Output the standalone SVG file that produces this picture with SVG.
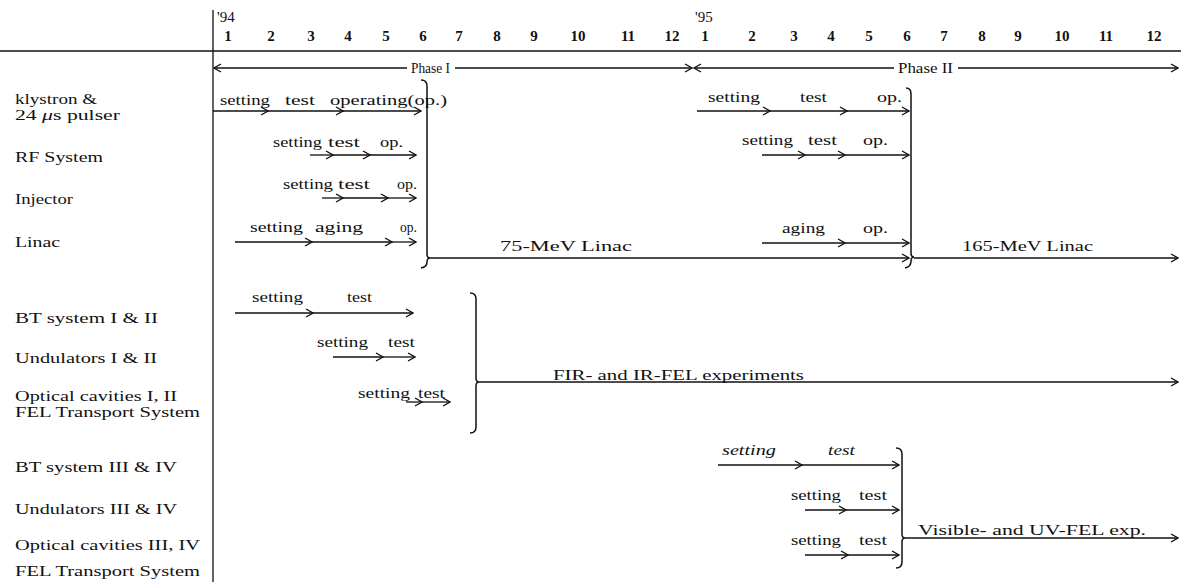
<svg xmlns="http://www.w3.org/2000/svg" width="1181" height="582" viewBox="0 0 1181 582">
<style>
text{font-family:"Liberation Serif","Times New Roman",serif;fill:#111;font-size:15px}
.num{font-size:15px;font-weight:bold}
.lbl{font-size:14px}
.it{font-style:italic}
.ln{stroke:#111;stroke-width:1.3;fill:none}
.ar{stroke:#111;stroke-width:1.3;fill:none;marker-end:url(#ah)}
.br{stroke:#111;stroke-width:1.5;fill:none}
</style>
<defs>
<marker id="ah" viewBox="-9 -5 10 10" refX="0" refY="0" markerWidth="10" markerHeight="10" markerUnits="userSpaceOnUse" orient="auto-start-reverse">
<path d="M-7,-4 L0,0 L-7,4" fill="none" stroke="#111" stroke-width="1.3"/>
</marker>
</defs>
<rect width="1181" height="582" fill="#fff"/>

<g id="axis">
<line class="ln" x1="213" y1="10" x2="213" y2="582"/>
<line class="ln" x1="0" y1="51" x2="1181" y2="51" stroke-width="1.6"/>
<text x="217" y="22">'94</text>
<text x="695" y="22">'95</text>
<g text-anchor="middle">
<text class="num" x="228" y="41">1</text><text class="num" x="271" y="41">2</text><text class="num" x="311" y="41">3</text><text class="num" x="348" y="41">4</text><text class="num" x="386" y="41">5</text><text class="num" x="423" y="41">6</text><text class="num" x="459" y="41">7</text><text class="num" x="497" y="41">8</text><text class="num" x="534" y="41">9</text><text class="num" x="578" y="41">10</text><text class="num" x="628" y="41">11</text><text class="num" x="672" y="41">12</text>
<text class="num" x="705" y="41">1</text><text class="num" x="752" y="41">2</text><text class="num" x="794" y="41">3</text><text class="num" x="831" y="41">4</text><text class="num" x="869" y="41">5</text><text class="num" x="907" y="41">6</text><text class="num" x="944" y="41">7</text><text class="num" x="982" y="41">8</text><text class="num" x="1018" y="41">9</text><text class="num" x="1062" y="41">10</text><text class="num" x="1106" y="41">11</text><text class="num" x="1154" y="41">12</text>
</g>
</g>

<g id="phases">
<line class="ln" x1="214" y1="68" x2="407" y2="68" marker-start="url(#ah)"/>
<text x="411" y="73" textLength="39" lengthAdjust="spacingAndGlyphs">Phase I</text>
<line class="ar" x1="455" y1="68" x2="692" y2="68"/>
<line class="ln" x1="694" y1="68" x2="894" y2="68" marker-start="url(#ah)"/>
<text x="898" y="73" textLength="55" lengthAdjust="spacingAndGlyphs">Phase II</text>
<line class="ar" x1="958" y1="68" x2="1178" y2="68"/>
</g>

<g id="node-klystron"><text class="lbl" x="15" y="104" textLength="82" lengthAdjust="spacingAndGlyphs">klystron &amp;</text><text class="lbl" x="15" y="120" textLength="105" lengthAdjust="spacingAndGlyphs">24 <tspan class="it">μ</tspan>s  pulser</text></g>
<g id="node-rf"><text class="lbl" x="15" y="162" textLength="88" lengthAdjust="spacingAndGlyphs">RF System</text></g>
<g id="node-injector"><text class="lbl" x="15" y="204" textLength="58" lengthAdjust="spacingAndGlyphs">Injector</text></g>
<g id="node-linac"><text class="lbl" x="15" y="247" textLength="45" lengthAdjust="spacingAndGlyphs">Linac</text></g>
<g id="node-bt12"><text class="lbl" x="15" y="323" textLength="143" lengthAdjust="spacingAndGlyphs">BT system I &amp; II</text></g>
<g id="node-und12"><text class="lbl" x="15" y="363" textLength="142" lengthAdjust="spacingAndGlyphs">Undulators I &amp; II</text></g>
<g id="node-opt12"><text class="lbl" x="15" y="401" textLength="162" lengthAdjust="spacingAndGlyphs">Optical cavities I, II</text><text class="lbl" x="15" y="417" textLength="185" lengthAdjust="spacingAndGlyphs">FEL Transport System</text></g>
<g id="node-bt34"><text class="lbl" x="15" y="472" textLength="162" lengthAdjust="spacingAndGlyphs">BT system III &amp; IV</text></g>
<g id="node-und34"><text class="lbl" x="15" y="514" textLength="162" lengthAdjust="spacingAndGlyphs">Undulators III &amp; IV</text></g>
<g id="node-opt34"><text class="lbl" x="15" y="550" textLength="185" lengthAdjust="spacingAndGlyphs">Optical cavities III, IV</text><text class="lbl" x="15" y="576" textLength="185" lengthAdjust="spacingAndGlyphs">FEL Transport System</text></g>

<g id="brackets">
<path class="br" d="M421,80 Q427,80 427,86 L427,254 Q427,258 430,258 Q427,258 427,262 Q427,267 421,268"/>
<path class="br" d="M906,88 Q911,88 911,94 L911,253 Q911,257 914,257 Q911,257 911,261 Q911,267 905,268"/>
<path class="br" d="M470,293 Q476,293 476,299 L476,378 Q476,382 479,382 Q476,382 476,386 L476,427 Q476,433 470,433"/>
<path class="br" d="M896,448 Q902,448 902,454 L902,534 Q902,538 905,538 Q902,538 902,542 L902,562 Q902,568 896,568"/>
</g>

<g id="connectors">
<line class="ar" x1="213" y1="111" x2="268" y2="111"/><line class="ar" x1="268" y1="111" x2="343" y2="111"/><line class="ar" x1="343" y1="111" x2="421" y2="111"/>
<line class="ar" x1="310" y1="155" x2="333" y2="155"/><line class="ar" x1="333" y1="155" x2="370" y2="155"/><line class="ar" x1="370" y1="155" x2="416" y2="155"/>
<line class="ar" x1="322" y1="198" x2="343" y2="198"/><line class="ar" x1="343" y1="198" x2="388" y2="198"/><line class="ar" x1="388" y1="198" x2="416" y2="198"/>
<line class="ar" x1="235" y1="242" x2="312" y2="242"/><line class="ar" x1="312" y1="242" x2="392" y2="242"/><line class="ar" x1="392" y1="242" x2="416" y2="242"/>
<line class="ar" x1="697" y1="111" x2="770" y2="111"/><line class="ar" x1="770" y1="111" x2="847" y2="111"/><line class="ar" x1="847" y1="111" x2="909" y2="111"/>
<line class="ar" x1="762" y1="155" x2="805" y2="155"/><line class="ar" x1="805" y1="155" x2="845" y2="155"/><line class="ar" x1="845" y1="155" x2="909" y2="155"/>
<line class="ar" x1="762" y1="243" x2="845" y2="243"/><line class="ar" x1="845" y1="243" x2="909" y2="243"/>
<line class="ar" x1="430" y1="258" x2="909" y2="258"/>
<line class="ar" x1="914" y1="258" x2="1178" y2="258"/>
<line class="ar" x1="235" y1="313" x2="313" y2="313"/><line class="ar" x1="313" y1="313" x2="413" y2="313"/>
<line class="ar" x1="333" y1="357" x2="383" y2="357"/><line class="ar" x1="383" y1="357" x2="415" y2="357"/>
<line class="ar" x1="406" y1="402" x2="422" y2="402"/><line class="ar" x1="422" y1="402" x2="450" y2="402"/>
<line class="ar" x1="479" y1="382" x2="1178" y2="382"/>
<line class="ar" x1="718" y1="465" x2="802" y2="465"/><line class="ar" x1="802" y1="465" x2="899" y2="465"/>
<line class="ar" x1="805" y1="510" x2="846" y2="510"/><line class="ar" x1="846" y1="510" x2="899" y2="510"/>
<line class="ar" x1="805" y1="555" x2="848" y2="555"/><line class="ar" x1="848" y1="555" x2="899" y2="555"/>
<line class="ar" x1="905" y1="538" x2="1178" y2="538"/>
</g>

<g id="connector-labels">
<text x="220" y="105" textLength="50" lengthAdjust="spacingAndGlyphs">setting</text><text x="285" y="105" textLength="30" lengthAdjust="spacingAndGlyphs">test</text><text x="330" y="105" textLength="117" lengthAdjust="spacingAndGlyphs">operating(op.)</text>
<text x="273" y="147" textLength="49" lengthAdjust="spacingAndGlyphs">setting</text><text x="328" y="147" textLength="32" lengthAdjust="spacingAndGlyphs">test</text><text x="380" y="147" textLength="23" lengthAdjust="spacingAndGlyphs">op.</text>
<text x="283" y="189" textLength="50" lengthAdjust="spacingAndGlyphs">setting</text><text x="338" y="189" textLength="32" lengthAdjust="spacingAndGlyphs">test</text><text x="397" y="189" textLength="20" lengthAdjust="spacingAndGlyphs">op.</text>
<text x="250" y="232" textLength="53" lengthAdjust="spacingAndGlyphs">setting</text><text x="315" y="232" textLength="48" lengthAdjust="spacingAndGlyphs">aging</text><text x="400" y="232" textLength="17" lengthAdjust="spacingAndGlyphs">op.</text>
<text x="708" y="102" textLength="52" lengthAdjust="spacingAndGlyphs">setting</text><text x="800" y="102" textLength="27" lengthAdjust="spacingAndGlyphs">test</text><text x="877" y="102" textLength="25" lengthAdjust="spacingAndGlyphs">op.</text>
<text x="742" y="145" textLength="51" lengthAdjust="spacingAndGlyphs">setting</text><text x="808" y="145" textLength="29" lengthAdjust="spacingAndGlyphs">test</text><text x="863" y="145" textLength="25" lengthAdjust="spacingAndGlyphs">op.</text>
<text x="782" y="233" textLength="43" lengthAdjust="spacingAndGlyphs">aging</text><text x="863" y="233" textLength="25" lengthAdjust="spacingAndGlyphs">op.</text>
<text x="500" y="251" textLength="132" lengthAdjust="spacingAndGlyphs">75-MeV Linac</text>
<text x="962" y="251" textLength="131" lengthAdjust="spacingAndGlyphs">165-MeV Linac</text>
<text x="252" y="302" textLength="51" lengthAdjust="spacingAndGlyphs">setting</text><text x="347" y="302" textLength="25" lengthAdjust="spacingAndGlyphs">test</text>
<text x="317" y="347" textLength="51" lengthAdjust="spacingAndGlyphs">setting</text><text x="388" y="347" textLength="27" lengthAdjust="spacingAndGlyphs">test</text>
<text x="358" y="398" textLength="52" lengthAdjust="spacingAndGlyphs">setting</text><text x="418" y="398" textLength="27" lengthAdjust="spacingAndGlyphs">test</text>
<text x="553" y="380" textLength="251" lengthAdjust="spacingAndGlyphs">FIR- and IR-FEL experiments</text>
<text class="it" x="722" y="455" textLength="54" lengthAdjust="spacingAndGlyphs">setting</text><text class="it" x="828" y="455" textLength="27" lengthAdjust="spacingAndGlyphs">test</text>
<text x="791" y="500" textLength="50" lengthAdjust="spacingAndGlyphs">setting</text><text x="859" y="500" textLength="28" lengthAdjust="spacingAndGlyphs">test</text>
<text x="791" y="545" textLength="50" lengthAdjust="spacingAndGlyphs">setting</text><text x="859" y="545" textLength="28" lengthAdjust="spacingAndGlyphs">test</text>
<text x="918" y="535" textLength="228" lengthAdjust="spacingAndGlyphs">Visible- and UV-FEL exp.</text>
</g>
</svg>
